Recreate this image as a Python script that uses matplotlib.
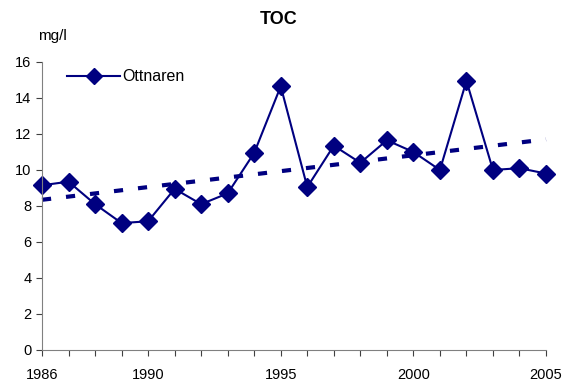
import matplotlib
matplotlib.use("Agg")
import matplotlib.pyplot as plt
import numpy as np

plt.rcParams['font.family'] = ['Liberation Sans', 'DejaVu Sans']

years = np.arange(1986, 2006)
toc = [9.15, 9.35, 8.1, 7.05, 7.15, 8.95, 8.1, 8.7, 10.95, 14.65,
       9.05, 11.35, 10.4, 11.65, 11.0, 10.0, 14.95, 10.0, 10.1, 9.8]
labelled_years = [1986, 1990, 1995, 2000, 2005]
series_name = "Ottnaren"

navy = '#000080'

fig = plt.figure(figsize=(5.73, 3.83), dpi=100)
ax = fig.add_axes([0.0733, 0.0862, 0.8796, 0.752])

# linear trend (Excel style trendline)
k, m = np.polyfit(years, toc, 1)
trend = k * years + m
ax.plot(years, trend, color=navy, lw=3.0, dashes=(2.2, 3.6),
        dash_capstyle='butt', clip_on=False)

ax.plot(years, toc, color=navy, lw=1.5, marker='D', markersize=9,
        label=series_name, clip_on=False)

ax.set_xlim(1986, 2005)
ax.set_ylim(0, 16)
ax.set_yticks(range(0, 17, 2))
ax.set_xticks(years)
ax.set_xticklabels([str(y) if y in labelled_years else '' for y in years])

for s in ['top', 'right']:
    ax.spines[s].set_visible(False)
for s in ['left', 'bottom']:
    ax.spines[s].set_color('#808080')
ax.tick_params(axis='both', direction='out', length=4, color='#404040',
               labelsize=10.5, labelcolor='black')
ax.tick_params(axis='x', pad=9)

fig.text(0.487, 0.948, 'TOC', fontsize=13, fontweight='bold',
         ha='center', va='center')
fig.text(0.066, 0.905, 'mg/l', fontsize=11, ha='left', va='center')

ax.legend(loc='center left', bbox_to_anchor=(0.05, 0.948), frameon=False,
          fontsize=11.5, handlelength=3.3, handletextpad=0.15,
          borderpad=0, borderaxespad=0, markerscale=0.85)

fig.savefig('out.png', dpi=100)
